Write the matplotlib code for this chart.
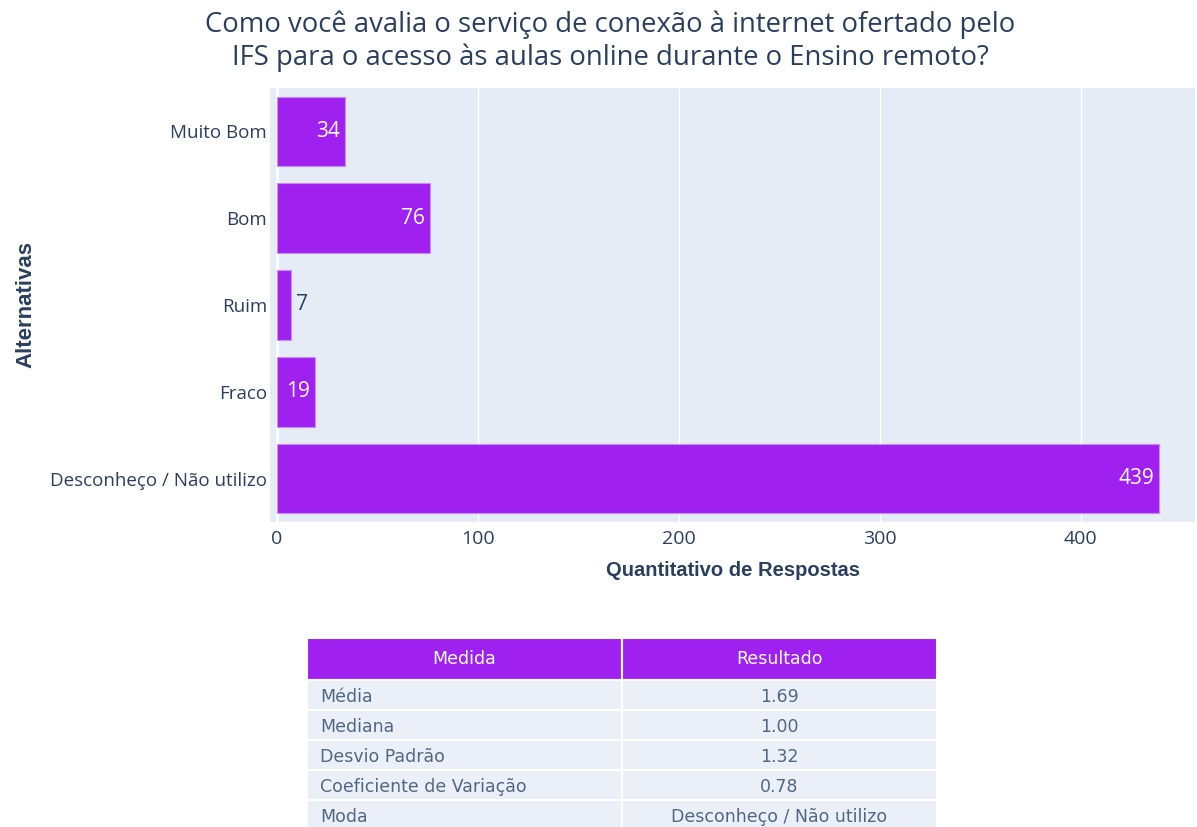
import matplotlib.pyplot as plt
from matplotlib.patches import Rectangle

categorias = ['Muito Bom', 'Bom', 'Ruim', 'Fraco', 'Desconheço / Não utilizo']
respostas = [34, 76, 7, 19, 439]

medidas = ['Média', 'Mediana', 'Desvio Padrão', 'Coeficiente de Variação', 'Moda']
resultados = ['1.69', '1.00', '1.32', '0.78', 'Desconheço / Não utilizo']
cabecalho = ['Medida', 'Resultado']

roxo = '#a020f0'
texto = '#2a3f5f'
fundo = '#e5ecf6'

W, H = 1197, 827
fig = plt.figure(figsize=(W / 100, H / 100), dpi=100)
plt.rcParams['font.family'] = ['Open Sans', 'DejaVu Sans']

# area do grafico de barras (pixels)
x0, x1, y0, y1 = 270, 1195, 88, 522
ax = fig.add_axes([x0 / W, 1 - y1 / H, (x1 - x0) / W, (y1 - y0) / H])
ax.set_facecolor(fundo)
for s in ax.spines.values():
    s.set_visible(False)

pos = list(range(len(categorias)))
ax.barh(pos, respostas, height=0.8, color=roxo, edgecolor='#c58cf5', linewidth=0.8, zorder=3)
ax.set_xlim(-3.5, 457)
ax.set_ylim(4.5, -0.5)
ax.set_yticks(pos)
ax.set_yticklabels(categorias)
ax.set_xticks([0, 100, 200, 300, 400])
ax.tick_params(length=0, colors=texto, labelsize=13.5)
ax.tick_params(axis='x', pad=6, labelsize=14)
ax.tick_params(axis='y', pad=2)
ax.grid(axis='x', color='white', linewidth=1, zorder=1)
ax.axvline(0, color='white', linewidth=2, zorder=2)

for p, v in zip(pos, respostas):
    if v >= 15:
        ax.text(v - 2.5, p, str(v), ha='right', va='center', color='white', fontsize=15, zorder=4)
    else:
        ax.text(v + 2.5, p, str(v), ha='left', va='center', color=texto, fontsize=15, zorder=4)

ax.set_xlabel('Quantitativo de Respostas', color=texto, fontsize=14.5, fontweight='bold', labelpad=9,
              family=['Liberation Sans', 'DejaVu Sans'])
ax.set_ylabel('Alternativas', color=texto, fontsize=16, fontweight='bold', labelpad=10,
              family=['Liberation Sans', 'DejaVu Sans'])

fig.text(610 / W, 1 - 41 / H, 'Como você avalia o serviço de conexão à internet ofertado pelo\nIFS para o acesso às aulas online durante o Ensino remoto?',
         ha='center', va='center', color=texto, fontsize=19.8, linespacing=1.2)

# tabela de medidas
tb = fig.add_axes([0, 0, 1, 1], zorder=-1)
tb.set_xlim(0, W)
tb.set_ylim(H, 0)
tb.axis('off')

cols = [(307, 622), (622, 937)]
top, hh, rh = 638, 42, 30
for (a, b), nome in zip(cols, cabecalho):
    tb.add_patch(Rectangle((a, top), b - a, hh, facecolor=roxo, edgecolor='white', linewidth=1.5))
    tb.text((a + b) / 2, top + hh / 2, nome, ha='center', va='center', color='white',
            fontsize=12.5, family=['DejaVu Sans'])
for i, (m, r) in enumerate(zip(medidas, resultados)):
    yy = top + hh + i * rh
    for (a, b) in cols:
        tb.add_patch(Rectangle((a, yy), b - a, rh, facecolor='#ebf0f8', edgecolor='white', linewidth=1.5))
    tb.text(cols[0][0] + 13, yy + rh / 2 + 2, m, ha='left', va='center', color='#506784',
            fontsize=12.5, family=['DejaVu Sans'])
    tb.text(sum(cols[1]) / 2, yy + rh / 2 + 2, r, ha='center', va='center', color='#506784',
            fontsize=12.5, family=['DejaVu Sans'])

fig.savefig('out.png', dpi=100, facecolor='white')
